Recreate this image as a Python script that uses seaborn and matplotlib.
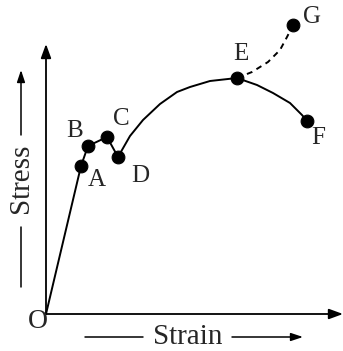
import matplotlib
matplotlib.use("Agg")
import matplotlib.pyplot as plt
import seaborn as sns

# stress-strain curve (arbitrary units)
path_strain = [0, 35, 42, 61, 72, 84, 97, 114, 131, 144, 164, 191, 211, 227, 244, 256, 261]
path_stress = [0, 148, 168, 177, 157, 178, 194, 210, 222, 227, 233, 236, 229, 221, 211, 199, 193]

# dashed branch E -> G
dash_strain = [191, 206, 222, 234, 241, 247]
dash_stress = [236, 242, 252, 264, 277, 289]

point_names = ["A", "B", "C", "D", "E", "F", "G"]
point_strain = [35, 42, 61, 72, 191, 261, 247]
point_stress = [148, 168, 177, 157, 236, 193, 289]
label_offsets = [(11, -10), (-10, 11), (10, 13), (16, -14), (3, 17), (8, -12), (14, 6)]

sns.set_style("white")
plt.rcParams['font.family'] = ['Liberation Serif', 'DejaVu Serif']

fig = plt.figure(figsize=(3.43, 3.51), dpi=100)
ax = fig.add_axes([46/343, 37/351, 297/343, 270/351])
ax.set_xlim(0, 297)
ax.set_ylim(0, 270)
for s in ax.spines.values():
    s.set_visible(False)
ax.set_xticks([])
ax.set_yticks([])

# axes with arrow heads
arr = dict(arrowstyle='-|>,head_length=0.6,head_width=0.22', color='black', lw=1.3,
           mutation_scale=14, shrinkA=0, shrinkB=0)
ax.annotate("", xy=(1, 0), xytext=(0, 0), xycoords='axes fraction', arrowprops=arr, annotation_clip=False)
ax.annotate("", xy=(0, 1), xytext=(0, 0), xycoords='axes fraction', arrowprops=arr, annotation_clip=False)

sns.lineplot(x=path_strain, y=path_stress, sort=False, estimator=None, color='black', lw=1.4, ax=ax)
sns.lineplot(x=dash_strain, y=dash_stress, sort=False, estimator=None, color='black', lw=1.4,
             linestyle=(0, (3, 2.5)), ax=ax)
for line in ax.lines:
    line.set_clip_on(False)

sns.scatterplot(x=point_strain, y=point_stress, color='black', s=85, edgecolor='black',
                zorder=5, clip_on=False, ax=ax)

for name, xs, ys, off in zip(point_names, point_strain, point_stress, label_offsets):
    ax.annotate(name, (xs, ys), xytext=off, textcoords='offset points',
                ha='center', va='center', fontsize=18, annotation_clip=False)

fig.text(38/343, 1 - 321/351, "O", ha='center', va='center', fontsize=20)

# axis titles with their little arrows
fig.text(21/343, 1 - 178/351, "Stress", rotation=90, ha='center', va='center', fontsize=21)
small = dict(arrowstyle='-|>,head_length=0.6,head_width=0.2', color='black', lw=1.1,
             mutation_scale=12, shrinkA=0, shrinkB=0)
plain = dict(arrowstyle='-', color='black', lw=1.1, shrinkA=0, shrinkB=0)
fig.add_artist(matplotlib.patches.FancyArrowPatch((21/343, 1 - 135/351), (21/343, 1 - 70/351),
                                                  transform=fig.transFigure, **small))
fig.add_artist(matplotlib.patches.FancyArrowPatch((21/343, 1 - 287/351), (21/343, 1 - 227/351),
                                                  transform=fig.transFigure, **plain))

fig.text(188/343, 1 - 337/351, "Strain", ha='center', va='center', fontsize=21)
fig.add_artist(matplotlib.patches.FancyArrowPatch((85/343, 1 - 337/351), (143/343, 1 - 337/351),
                                                  transform=fig.transFigure, **plain))
fig.add_artist(matplotlib.patches.FancyArrowPatch((232/343, 1 - 337/351), (303/343, 1 - 337/351),
                                                  transform=fig.transFigure, **small))

fig.savefig("out.png", dpi=100)
